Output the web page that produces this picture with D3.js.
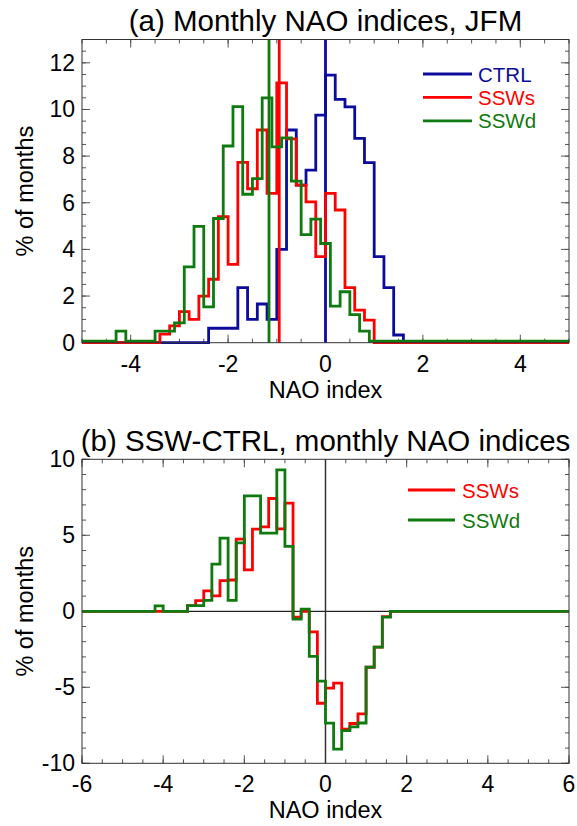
<!DOCTYPE html>
<html>
<head>
<meta charset="utf-8">
<script src="https://cdnjs.cloudflare.com/ajax/libs/d3/7.8.5/d3.min.js"></script>
<style>
  html, body { margin: 0; padding: 0; background: #fff; }
  svg { display: block; font-family: "Liberation Sans", Arial, Helvetica, sans-serif; }
</style>
</head>
<body>
<svg id="chart" width="577" height="826"></svg>
<script>
// Bin width of all histograms (NAO index units)
const binWidth = 0.2;

// (a) Monthly NAO indices, JFM -- % of months per bin
const ctrlStart = -2.3;
const ctrlPct = [0.62, 0.62, 0.62, 2.36, 1.0, 1.66, 1.0, 4.0, 9.12, 6.76, 7.4, 9.76,
  11.47, 10.43, 10.11, 8.76, 7.72, 3.69, 2.36, 0.33];
const sswsStart = -3.3;
const sswsPct = [0.37, 0.72, 1.33, 1.0, 2.0, 2.72, 5.4, 3.36, 7.73, 6.6, 9.12, 6.4,
  11.14, 8.74, 6.76, 6.04, 3.69, 6.4, 5.69, 2.36, 1.4, 0.97];
const sswdStart = -4.2;
const sswdPct = [0.43, 0, 0, 0, 0.43, 0.43, 0.79, 3.19, 4.92, 1.47, 5.26, 8.37, 10.06,
  6.3, 6.97, 10.43, 8.33, 8.72, 6.86, 4.57, 5.23, 4.19, 1.5, 2.12, 1.14, 0.43];

// mean NAO index of each set (vertical lines)
const meanNames = ["CTRL", "SSWs", "SSWd"];
const meanValues = [0.0, -0.95, -1.16];

// (b) SSW-CTRL difference, % of months
const sswsDiffStart = -3.3;
const sswsDiff = [0.37, 0.7, 1.35, 1.02, 2.02, 2.06, 4.75, 2.72, 5.4, 5.55, 7.42, 5.42,
  7.12, -0.38, 0.0, -1.35, -6.05, -5.06, -4.72, -7.75, -7.38, -6.75, -3.68, -2.36, -0.35];
const sswdDiffStart = -4.1;
const sswdDiff = [0.36, 0, 0, 0, 0.37, 0.37, 0.72, 3.11, 4.82, 0.72, 4.5, 7.6, 7.6,
  5.14, 5.14, 9.3, 4.27, -0.51, 0.14, -2.97, -4.6, -7.36, -9.07, -7.85, -7.6, -7.35,
  -3.67, -2.36, -0.38];

// axis ticks
const xTicksA = [-4, -2, 0, 2, 4];
const yTicksA = [0, 2, 4, 6, 8, 10, 12];
const xTicksB = [-6, -4, -2, 0, 2, 4, 6];
const yTicksB = [-10, -5, 0, 5, 10];

const colors = { CTRL: "#0c0c9c", SSWs: "#ff0000", SSWd: "#0f7a0f" };

const svg = d3.select("#chart");
const left = 82, right = 569;

function label(g, x, y, str, size, anchor, rotate) {
  return g.append("text")
    .attr("transform", `translate(${x},${y})` + (rotate ? ` rotate(${rotate})` : ""))
    .attr("text-anchor", anchor || "start")
    .attr("font-size", size)
    .text(str);
}

// turn a list of bin values into points at bin centres, padded with zeros to the axis ends
function binPoints(start, vals, domain) {
  const pts = [[domain[0], 0], [start - binWidth, 0]];
  vals.forEach((v, i) => pts.push([start + i * binWidth, v]));
  pts.push([start + vals.length * binWidth, 0], [domain[1], 0]);
  return pts;
}

// inward tick marks on all four sides
function frame(g, x, y, xMinor, yMinor, xTicks, yTicks) {
  const [x0, x1] = x.range();
  const [y0, y1] = y.range();
  const tg = g.append("g").attr("stroke", "#555").attr("stroke-width", 1);
  const xt = (vals, len) => vals.forEach(v => {
    tg.append("line").attr("x1", x(v)).attr("x2", x(v)).attr("y1", y0).attr("y2", y0 - len);
    tg.append("line").attr("x1", x(v)).attr("x2", x(v)).attr("y1", y1).attr("y2", y1 + len);
  });
  const yt = (vals, len) => vals.forEach(v => {
    tg.append("line").attr("x1", x0).attr("x2", x0 + len).attr("y1", y(v)).attr("y2", y(v));
    tg.append("line").attr("x1", x1).attr("x2", x1 - len).attr("y1", y(v)).attr("y2", y(v));
  });
  xt(xMinor, 4); xt(xTicks, 8);
  yt(yMinor, 4); yt(yTicks, 8);
}

function panel(opts) {
  const x = d3.scaleLinear().domain(opts.xDomain).range([left, right]);
  const y = d3.scaleLinear().domain(opts.yDomain).range([opts.bottom, opts.top]);
  const g = svg.append("g");

  frame(g, x, y, d3.range(opts.xDomain[0], opts.xDomain[1] + 0.001, 0.5),
    d3.range(opts.yDomain[0], opts.yDomain[1] + 0.001, opts.yMinorStep), opts.xTicks, opts.yTicks);

  opts.xTicks.forEach(d => label(g, x(d), opts.bottom + 29, d, 23, "middle"));
  opts.yTicks.forEach(d => label(g, left - 7, y(d) + 8, d, 23, "end"));

  label(g, (left + right) / 2, opts.top - 8.5, opts.title, 29.5, "middle");
  label(g, (left + right) / 2, opts.bottom + 55, "NAO index", 23.5, "middle");
  label(g, 33, (opts.top + opts.bottom) / 2, "% of months", 23.5, "middle", -90);

  return { x, y, g };
}

const line = (x, y) => d3.line().x(d => x(d[0])).y(d => y(d[1])).curve(d3.curveStep);

// ---------- panel (a) ----------
const A = panel({
  xDomain: [-5, 5], yDomain: [0, 13], top: 39.5, bottom: 342.7,
  yMinorStep: 0.5, xTicks: xTicksA, yTicks: yTicksA,
  title: "(a) Monthly NAO indices, JFM"
});

const seriesA = [
  { name: "CTRL", start: ctrlStart, vals: ctrlPct, dy: 0 },
  { name: "SSWs", start: sswsStart, vals: sswsPct, dy: 0 },
  { name: "SSWd", start: sswdStart, vals: sswdPct, dy: -1.5 } // sits just above red on the baseline
];
seriesA.forEach((s, i) => {
  A.g.append("path")
    .datum(binPoints(s.start, s.vals, [-5, 5]))
    .attr("d", line(A.x, A.y))
    .attr("transform", `translate(0,${s.dy})`)
    .attr("fill", "none").attr("stroke", colors[s.name]).attr("stroke-width", 2.8);
  A.g.append("line")
    .attr("x1", A.x(meanValues[i])).attr("x2", A.x(meanValues[i]))
    .attr("y1", A.y(0)).attr("y2", A.y(13))
    .attr("stroke", colors[meanNames[i]]).attr("stroke-width", 2.8);
});

A.g.append("rect").attr("x", left).attr("y", 39.5).attr("width", right - left)
  .attr("height", 342.7 - 39.5).attr("fill", "none").attr("stroke", "#333").attr("stroke-width", 1);

// legend (a)
seriesA.forEach((s, i) => {
  const ly = 74 + i * 23.4;
  A.g.append("line").attr("x1", 423).attr("x2", 472).attr("y1", ly).attr("y2", ly)
    .attr("stroke", colors[s.name]).attr("stroke-width", 2.8);
  label(A.g, 478, ly + 7.5, s.name, 20.5).attr("fill", colors[s.name]);
});

// ---------- panel (b) ----------
const B = panel({
  xDomain: [-6, 6], yDomain: [-10, 10], top: 459.3, bottom: 763.3,
  yMinorStep: 1, xTicks: xTicksB, yTicks: yTicksB,
  title: "(b) SSW-CTRL, monthly NAO indices"
});

// zero lines
B.g.append("line").attr("x1", left).attr("x2", right).attr("y1", B.y(0)).attr("y2", B.y(0))
  .attr("stroke", "#222").attr("stroke-width", 1.2);
B.g.append("line").attr("x1", B.x(0)).attr("x2", B.x(0)).attr("y1", B.y(-10)).attr("y2", B.y(10))
  .attr("stroke", "#333").attr("stroke-width", 1.5);

const seriesB = [
  { name: "SSWs", start: sswsDiffStart, vals: sswsDiff },
  { name: "SSWd", start: sswdDiffStart, vals: sswdDiff }
];
seriesB.forEach(s => {
  B.g.append("path")
    .datum(binPoints(s.start, s.vals, [-6, 6]))
    .attr("d", line(B.x, B.y))
    .attr("fill", "none").attr("stroke", colors[s.name]).attr("stroke-width", 2.8);
});

B.g.append("rect").attr("x", left).attr("y", 459.3).attr("width", right - left)
  .attr("height", 763.3 - 459.3).attr("fill", "none").attr("stroke", "#333").attr("stroke-width", 1);

seriesB.forEach((s, i) => {
  const ly = 490 + i * 30;
  B.g.append("line").attr("x1", 408).attr("x2", 455).attr("y1", ly).attr("y2", ly)
    .attr("stroke", colors[s.name]).attr("stroke-width", 2.8);
  label(B.g, 462, ly + 7.5, s.name, 20.5).attr("fill", colors[s.name]);
});
</script>
</body>
</html>
